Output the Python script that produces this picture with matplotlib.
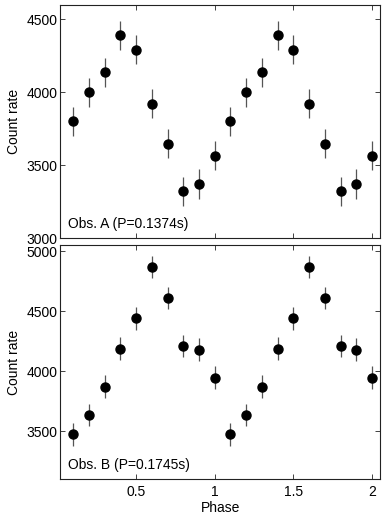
import matplotlib
matplotlib.use("Agg")
import matplotlib.pyplot as plt
import numpy as np

phase = [0.1, 0.2, 0.3, 0.4, 0.5, 0.6, 0.7, 0.8, 0.9, 1.0,
         1.1, 1.2, 1.3, 1.4, 1.5, 1.6, 1.7, 1.8, 1.9, 2.0]
rate_a = [3800, 4000, 4135, 4390, 4290, 3922, 3646, 3320, 3370, 3565,
          3800, 4000, 4135, 4390, 4290, 3922, 3646, 3320, 3370, 3565]
err_a = [100] * 20
rate_b = [3472, 3635, 3872, 4188, 4442, 4870, 4610, 4210, 4180, 3947,
          3472, 3635, 3872, 4188, 4442, 4870, 4610, 4210, 4180, 3947]
err_b = [95] * 20
label_a = "Obs. A (P=0.1374s)"
label_b = "Obs. B (P=0.1745s)"
yticks_a = [3000, 3500, 4000, 4500]
yticks_b = [3500, 4000, 4500, 5000]
xticks = [0.5, 1, 1.5, 2]
xticklabels = ["0.5", "1", "1.5", "2"]

plt.rcParams['font.family'] = ['Liberation Sans', 'DejaVu Sans']
fs = 10

fig = plt.figure(figsize=(3.86, 5.20), dpi=100)
ax1 = fig.add_axes([0.1567, 0.5423, 0.8277, 0.4487])
ax2 = fig.add_axes([0.1567, 0.0788, 0.8277, 0.4494])

for ax, y, e, lab, yt, yl in [(ax1, rate_a, err_a, label_a, yticks_a, (3000, 4600)),
                              (ax2, rate_b, err_b, label_b, yticks_b, (3100, 5050))]:
    ax.errorbar(phase, y, yerr=e, fmt='o', color='black', ecolor='#555555',
                elinewidth=0.9, capsize=0, markersize=6.5, zorder=3)
    ax.set_xlim(0.02, 2.05)
    ax.set_ylim(*yl)
    ax.set_yticks(yt)
    ax.set_yticklabels([str(v) for v in yt], fontsize=fs)
    ax.set_xticks(xticks)
    ax.tick_params(direction='in', top=True, right=True, length=3.5,
                   width=0.6, colors='#222222', labelcolor='black', pad=2)
    ax.tick_params(axis='x', pad=4)
    for s in ax.spines.values():
        s.set_linewidth(0.8)
        s.set_color('#222222')
    ax.set_ylabel("Count rate", fontsize=fs, labelpad=4)
    ax.text(0.022, 0.03, lab, transform=ax.transAxes, fontsize=fs,
            ha='left', va='bottom')

ax1.set_xticklabels([])
ax2.set_xticklabels(xticklabels, fontsize=fs)
ax2.set_xlabel("Phase", fontsize=fs, labelpad=2)

fig.savefig("out.png", dpi=100)
